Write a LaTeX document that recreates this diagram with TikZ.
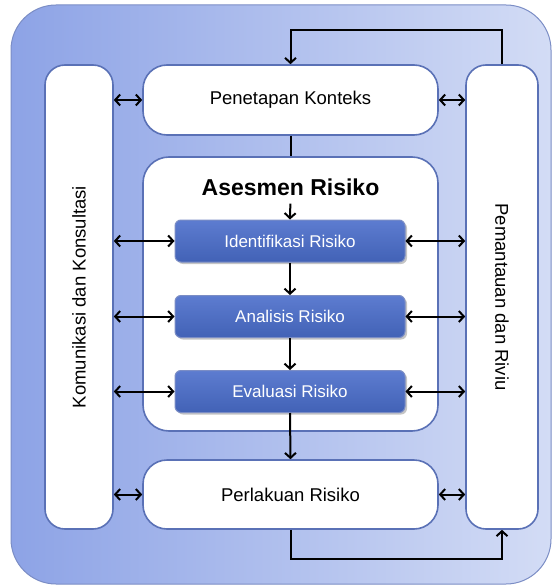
\documentclass[tikz,border=0pt]{standalone}
\usepackage{fontspec}
\setmainfont{Liberation Sans}
\usetikzlibrary{arrows.meta}
\usetikzlibrary{shadows}
\definecolor{outerleft}{HTML}{8DA3E6}
\definecolor{outerright}{HTML}{D3DCF5}
\definecolor{rim}{HTML}{5A71B6}
\definecolor{steptop}{HTML}{5D7CD0}
\definecolor{stepbottom}{HTML}{4262B6}
\tikzset{
  panel/.style={draw=rim, line width=1.6pt, fill=white, rounded corners=20pt, inner sep=0pt, font=\fontsize{18.5}{22}\selectfont},
  stepbox/.style={draw=rim!80, line width=1pt, top color=steptop, bottom color=stepbottom, rounded corners=6pt, minimum width=230pt, minimum height=42pt, text=white, font=\fontsize{17}{20}\selectfont, drop shadow={shadow xshift=2pt, shadow yshift=-2pt, opacity=.45}},
  flow/.style={line width=2pt, -{Straight Barb[length=5pt,width=11pt]}},
  link/.style={line width=2pt},
  both/.style={line width=2pt, {Straight Barb[length=5pt,width=11pt]}-{Straight Barb[length=5pt,width=11pt]}},
}
\begin{document}
\begin{tikzpicture}[x=1pt, y=-1pt]
	\useasboundingbox (0,0) rectangle (553,586);
	\draw[draw=rim!80, line width=1pt, left color=outerleft, right color=outerright, rounded corners=45pt] (11,5) rectangle (551,584);
	% boxes
	\node[panel, minimum width=295pt, minimum height=70pt, rounded corners=24pt] (pene) at (290.5,100) {Penetapan Konteks};
	\node[panel, minimum width=295pt, minimum height=274pt, rounded corners=26pt] (ases) at (290.5,294) {};
	\node[font=\bfseries\fontsize{23}{26}\selectfont, inner sep=1pt] (judul) at (290.5,187) {Asesmen Risiko};
	\node[panel, minimum width=295pt, minimum height=69pt, rounded corners=24pt] (perl) at (290.5,494.5) {Perlakuan Risiko};
	\node[panel, rotate=90, minimum width=464pt, minimum height=68pt] (komu) at (79,297) {Komunikasi dan Konsultasi};
	\node[panel, rotate=-90, minimum width=464pt, minimum height=72pt] (pema) at (502,297) {Pemantauan dan Riviu};
	\node[stepbox] (iden) at (290,241) {Identifikasi Risiko};
	\node[stepbox] (anal) at (290,316.5) {Analisis Risiko};
	\node[stepbox] (eval) at (290,391.5) {Evaluasi Risiko};
	% main flow
	\draw[link] (pene.south) -- (ases.north);
	\draw[flow, shorten <=7pt] (judul.south) -- (iden.north);
	\draw[flow] (iden.south) -- (anal.north);
	\draw[flow] (anal.south) -- (eval.north);
	\draw[flow] (eval.south) -- (perl.north);
	\draw[flow] (pema.west) -- ++(0,-34) -| (pene.north);
	\draw[flow] (perl.south) -- ++(0,29) -| (pema.east);
	% side links
	\draw[both] (komu.south |- pene.west) -- (pene.west);
	\draw[both] (pene.east) -- (pema.south |- pene.east);
	\draw[both] (komu.south |- iden.west) -- (iden.west);
	\draw[both] (iden.east) -- (pema.south |- iden.east);
	\draw[both] (komu.south |- anal.west) -- (anal.west);
	\draw[both] (anal.east) -- (pema.south |- anal.east);
	\draw[both] (komu.south |- eval.west) -- (eval.west);
	\draw[both] (eval.east) -- (pema.south |- eval.east);
	\draw[both] (komu.south |- perl.west) -- (perl.west);
	\draw[both] (perl.east) -- (pema.south |- perl.east);
\end{tikzpicture}
\end{document}
